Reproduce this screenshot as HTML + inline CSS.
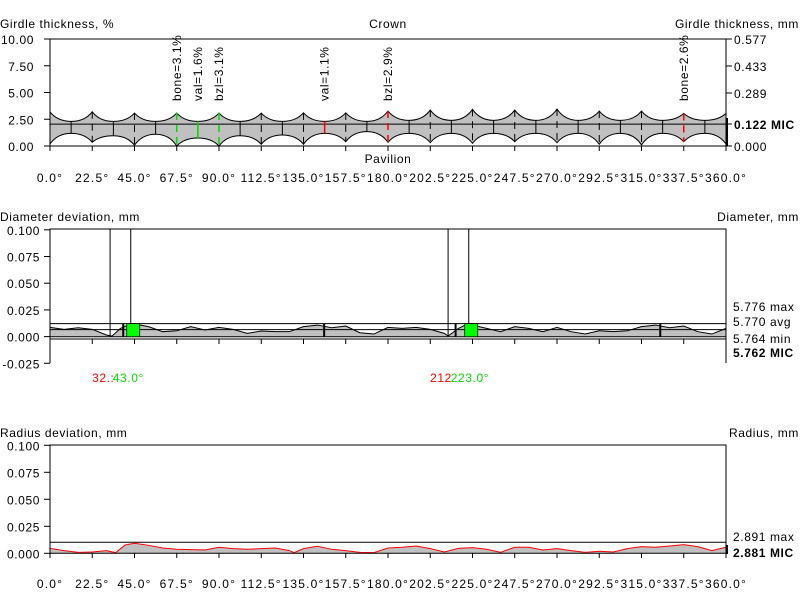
<!DOCTYPE html>
<html><head><meta charset="utf-8">
<style>
html,body{margin:0;padding:0;background:#fff;}
svg{display:block;font-family:"Liberation Sans",sans-serif;font-size:12px;}
text{letter-spacing:0.6px;}
.xl{letter-spacing:1.2px;}
</style></head>
<body>
<svg id="chart" width="800" height="609" viewBox="0 0 800 609" xmlns="http://www.w3.org/2000/svg"></svg>
<script>
// ===== data =====
const xTicks = ["0.0°","22.5°","45.0°","67.5°","90.0°","112.5°","135.0°","157.5°","180.0°","202.5°","225.0°","247.5°","270.0°","292.5°","315.0°","337.5°","360.0°"];
const upperPeak = [3.18,3.2,3.08,3.08,3.08,3.08,3.1,3.1,3.27,3.36,3.43,3.36,3.46,3.27,3.27,3.05,3.05];
const upperValley = [2.3,2.3,2.3,2.3,2.3,2.3,2.3,2.3,2.4,2.4,2.4,2.4,2.4,2.4,2.4,2.4];
const lowerLow = [0.19,0.35,0.07,0.0,0.0,0.16,0.16,0.4,0.35,0.31,0.25,0.4,0.31,0.16,0.1,0.4,0.19];
const lowerHigh = [1.18,0.96,1.1,0.75,0.96,1.03,1.18,1.34,1.18,1.18,1.18,1.18,1.18,1.18,1.18,1.18];
const girdleCenter = 2.05;
const gLeftTicks = ["0.00","2.50","5.00","7.50","10.00"];
const gRightTicks = ["0.000","0.289","0.433","0.577"];
const annotAngles = [67.5,78.75,90,146.25,180,337.5];
const annotText = ["bone=3.1%","val=1.6%","bzl=3.1%","val=1.1%","bzl=2.9%","bone=2.6%"];
const annotColor = ["#00dd00","#00dd00","#00dd00","#ff0000","#ff0000","#ff0000"];
const annotDash = [true,false,true,false,true,true];
const diamAngles = [0,7.5,15,22.5,30,33,37.5,43,45,52.5,60,67.5,75,82.5,90,97.5,105,112.5,120,127.5,135,142.5,150,157.5,165,172.5,180,187.5,195,202.5,210,212,217.5,223,225,232.5,240,247.5,255,262.5,270,277.5,285,292.5,300,307.5,315,322.5,330,337.5,345,352.5,360];
const diamDev = [8.7,6.9,8.4,6.9,1.6,0.6,7.8,12.0,11.9,9.4,4.7,5.6,9.4,6.3,8.7,6.9,3.1,5.3,4.7,4.7,9.4,10.9,8.4,10,3.75,2.5,8.7,7.8,8.7,6.9,3.1,0.6,7.8,12.5,10.9,7.8,4.7,9.4,7.8,4.7,8.7,4.7,2.5,5.6,4.7,5.6,9.4,10.9,8.4,10,4.7,2.5,7.8];
const diamLeftTicks = ["-0.025","0.000","0.025","0.050","0.075","0.100"];
const diamRight = ["5.776 max","5.770 avg","5.764 min"];
const diamRefs = [12.2,6.6,0];
const radAngles = [0,7.5,15,22.5,30,35,40,45,52.5,60,67.5,75,82.5,90,97.5,105,112.5,120,127.5,130,135,142.5,150,157.5,165,172.5,180,187.5,195,202.5,210,217.5,225,232.5,240,247.5,255,262.5,270,277.5,285,292.5,300,307.5,315,322.5,330,337.5,345,352.5,360];
const radDev = [4.6,2.5,0.9,1.2,2.5,0.6,7.7,9.3,7.4,4.9,3.7,3.4,3.1,5.6,4.3,3.7,4.3,4.9,2.5,0.6,4.3,6.5,3.7,2.5,0.9,0.6,4.9,5.6,6.8,4.3,1.2,4.6,5.2,3.7,0.9,5.6,5.6,3.1,4.3,2.5,0.9,1.9,1.2,4.3,6.2,5.6,6.8,8.0,6.2,2.5,5.6];
const radLeftTicks = ["0.000","0.025","0.050","0.075","0.100"];

// ===== helpers =====
const svg=document.getElementById('chart');
const NS="http://www.w3.org/2000/svg";
function mk(tag,attrs,parent){const e=document.createElementNS(NS,tag);for(const k in attrs)e.setAttribute(k,attrs[k]);(parent||svg).appendChild(e);return e;}
function txt(x,y,s,anchor,extra){const t=mk('text',Object.assign({x:x,y:y,'text-anchor':anchor||'start'},extra||{}));t.textContent=s;return t;}
const X0=50,X1=726;
const xs=a=>X0+(X1-X0)*a/360;

// ===== girdle chart =====
const gy=v=>146-(146-39)*v/10;
let e;
e=txt(0,28,"Girdle thickness, %");
e=txt(388,28,"Crown","middle");
e=txt(799,28,"Girdle thickness, mm","end");
let d="M"+xs(0)+","+gy(upperPeak[0]);
for(let i=0;i<16;i++){const a=i*22.5,m=a+11.25,b=a+22.5;
 d+=" Q"+xs(a+4)+","+gy(upperValley[i])+" "+xs(m)+","+gy(upperValley[i]);
 d+=" Q"+xs(b-4)+","+gy(upperValley[i])+" "+xs(b)+","+gy(upperPeak[i+1]);}
d+=" L"+xs(360)+","+gy(lowerLow[16]);
for(let i=15;i>=0;i--){const a=i*22.5,m=a+11.25,b=a+22.5;
 d+=" Q"+xs(b-4)+","+gy(lowerHigh[i])+" "+xs(m)+","+gy(lowerHigh[i]);
 d+=" Q"+xs(a+4)+","+gy(lowerHigh[i])+" "+xs(a)+","+gy(lowerLow[i]);}
d+="Z";
e=mk('path',{d:d,fill:'#c0c0c0',stroke:'#000','stroke-width':1});

e=mk('line',{x1:X0,x2:X1,y1:gy(girdleCenter),y2:gy(girdleCenter),stroke:'#000'});

for(let i=0;i<=16;i++){e=mk('line',{x1:xs(i*22.5),x2:xs(i*22.5),y1:gy(upperPeak[i]),y2:gy(lowerLow[i]),stroke:'#000','stroke-dasharray':'7,5'});
 }
for(let i=0;i<16;i++){const a=i*22.5+11.25;e=mk('line',{x1:xs(a),x2:xs(a),y1:gy(upperValley[i]),y2:gy(lowerHigh[i]),stroke:'#000'});
 }
for(let i=0;i<annotAngles.length;i++){const a=annotAngles[i];const k=Math.round(a/11.25);
 const top=k%2===0?gy(upperPeak[k/2]):gy(upperValley[(k-1)/2]);const bot=k%2===0?gy(lowerLow[k/2]):gy(lowerHigh[(k-1)/2]);
 const at={x1:xs(a),x2:xs(a),y1:top,y2:bot,stroke:annotColor[i],'stroke-width':1.5};if(annotDash[i])at['stroke-dasharray']='7,5';
 e=mk('line',at);
 e=txt(0,0,annotText[i],'start',{transform:'translate('+(xs(a)+4)+',101) rotate(-90)'});
 }
e=mk('path',{d:`M${X0},39 L${X1},39 L${X1},146 M${X0},39 L${X0},146 L${X1},146`,fill:'none',stroke:'#000'});

for(let i=0;i<gLeftTicks.length;i++){const y=146-i*26.75;mk('line',{x1:44,x2:50,y1:y,y2:y,stroke:'#000'});
 e=txt(34,y+5,gLeftTicks[i],'end');}
const rY=[146,93,66,39];
for(let i=0;i<gRightTicks.length;i++){mk('line',{x1:726,x2:732,y1:rY[i],y2:rY[i],stroke:'#000'});
 e=txt(734,rY[i]+5,gRightTicks[i]);}
mk('line',{x1:726,x2:732,y1:124,y2:124,stroke:'#000'});
e=txt(734,129,"0.122 MIC",'start',{'font-weight':'bold'});
mk('line',{x1:727,x2:727,y1:118,y2:146,stroke:'#000','stroke-width':2});
for(let i=0;i<=16;i++)mk('line',{x1:xs(i*22.5),x2:xs(i*22.5),y1:146,y2:151,stroke:'#000'});
e=txt(388,163,"Pavilion","middle");
for(let i=0;i<xTicks.length;i++){e=txt(xs(i*22.5),182,xTicks[i],'middle',{class:'xl'});}

// ===== diameter chart =====
const dy=v=>336.7-v*1.067;
e=txt(0,221,"Diameter deviation, mm");
e=txt(799,221,"Diameter, mm","end");
d="M"+xs(0)+","+dy(0);
for(let i=0;i<diamAngles.length;i++)d+=" L"+xs(diamAngles[i])+","+dy(diamDev[i]);
d+=" L"+xs(360)+","+dy(0)+"Z";
e=mk('path',{d:d,fill:'#c0c0c0',stroke:'none'});
e=mk('polyline',{points:diamAngles.map((a,i)=>xs(a)+","+dy(diamDev[i])).join(" "),fill:'none',stroke:'#000'});

const diamLabelY=[311,326,343];
for(let i=0;i<diamRefs.length;i++){e=mk('line',{x1:X0,x2:X1,y1:dy(diamRefs[i]),y2:dy(diamRefs[i]),stroke:'#000'});
 
 e=txt(733,diamLabelY[i],diamRight[i]);}
mk('line',{x1:X0,x2:X1,y1:339,y2:339,stroke:'#000'});
e=txt(733,357,"5.762 MIC",'start',{'font-weight':'bold'});
const minA=[32,212],maxA=[43,223];
for(let j=0;j<2;j++){
 mk('line',{x1:xs(minA[j]),x2:xs(minA[j]),y1:229,y2:dy(0),stroke:'#000'});
 mk('line',{x1:xs(maxA[j]),x2:xs(maxA[j]),y1:229,y2:dy(0),stroke:'#000'});
 e=mk('rect',{x:xs(maxA[j])-4,y:dy(12.2),width:13,height:dy(0)-dy(12.2),fill:'#00ff00',stroke:'#000','stroke-width':0.7});
 
 e=txt(xs(minA[j])-18,382,minA[j]===32?"32.:":"212",'start',{fill:'#ff0000'});
 e=txt(xs(maxA[j])-18,382,maxA[j].toFixed(1)+"°",'start',{fill:'#00dd00'});}
for(const a of [39,146,216,325])mk('line',{x1:xs(a),x2:xs(a),y1:dy(12),y2:dy(0),stroke:'#000','stroke-width':2});
e=mk('path',{d:`M${X0},363 L${X0},229 L${X1},229 L${X1},363`,fill:'none',stroke:'#000'});

for(let i=0;i<diamLeftTicks.length;i++){const y=363.3-i*26.7;mk('line',{x1:44,x2:50,y1:y,y2:y,stroke:'#000'});
 e=txt(40,y+5,diamLeftTicks[i],'end');}
for(let i=0;i<=16;i++)mk('line',{x1:xs(i*22.5),x2:xs(i*22.5),y1:339,y2:344,stroke:'#000'});

// ===== radius chart =====
const ry=v=>553.3-v*1.08;
e=txt(0,437,"Radius deviation, mm");
e=txt(799,437,"Radius, mm","end");
d="M"+xs(0)+","+ry(0);
for(let i=0;i<radAngles.length;i++)d+=" L"+xs(radAngles[i])+","+ry(radDev[i]);
d+=" L"+xs(360)+","+ry(0)+"Z";
e=mk('path',{d:d,fill:'#c0c0c0',stroke:'none'});
e=mk('polyline',{points:radAngles.map((a,i)=>xs(a)+","+ry(radDev[i])).join(" "),fill:'none',stroke:'#ff0000'});

e=mk('line',{x1:X0,x2:X1,y1:ry(10.2),y2:ry(10.2),stroke:'#000'});
e=mk('path',{d:`M${X0},${ry(0)} L${X0},445 L${X1},445 L${X1},${ry(0)} Z`,fill:'none',stroke:'#000'});

for(let i=0;i<radLeftTicks.length;i++){const y=553.3-i*27;mk('line',{x1:44,x2:50,y1:y,y2:y,stroke:'#000'});
 e=txt(40,y+5,radLeftTicks[i],'end');}
for(let i=0;i<=16;i++)mk('line',{x1:xs(i*22.5),x2:xs(i*22.5),y1:553,y2:558,stroke:'#000'});
e=txt(733,541,"2.891 max");
e=txt(733,557,"2.881 MIC",'start',{'font-weight':'bold'});
mk('line',{x1:727,x2:727,y1:545,y2:554,stroke:'#000','stroke-width':2});
for(let i=0;i<xTicks.length;i++){e=txt(xs(i*22.5),588,xTicks[i],'middle',{class:'xl'});}
</script>
</body></html>
